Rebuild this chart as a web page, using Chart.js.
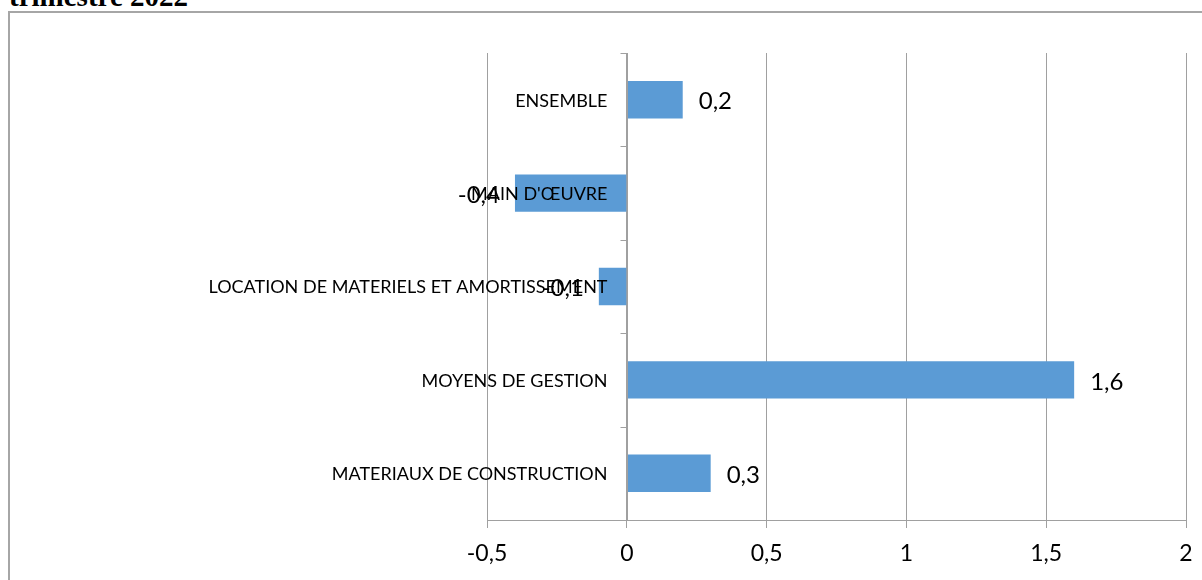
<!DOCTYPE html>
<html>
<head>
<meta charset="utf-8">
<script src="https://cdn.jsdelivr.net/npm/chart.js@4/dist/chart.umd.min.js"></script>
<style>
  html, body { margin: 0; padding: 0; background: #fff; overflow: hidden; }
  #wrap { position: relative; width: 1202px; height: 580px; overflow: hidden; }
  #title { position: absolute; left: 9px; top: -18px; font-family: "Liberation Serif", serif; font-weight: bold; font-size: 29px; line-height: 29px; color: #000; white-space: nowrap; }
  #frame { position: absolute; left: 8px; top: 11px; width: 1300px; height: 700px; border: 2px solid #A6A6A6; box-sizing: border-box; }
  #c { position: absolute; left: 0; top: 0; }
</style>
</head>
<body>
<div id="wrap">
  <div id="title">trimestre 2022</div>
  <div id="frame"></div>
  <canvas id="c" width="1202" height="580"></canvas>
</div>
<script>
const categories = ["ENSEMBLE", "MAIN D'ŒUVRE", "LOCATION DE MATERIELS ET AMORTISSEMENT", "MOYENS DE GESTION", "MATERIAUX DE CONSTRUCTION"];
const values = [0.2, -0.4, -0.1, 1.6, 0.3];
const xTickValues = [-0.5, 0, 0.5, 1, 1.5, 2];

const fmt = v => String(v).replace('.', ',');
const GRID = '#A0A0A0';
const FONT = 'Lato, "Open Sans", sans-serif';

const overlay = {
  id: 'overlay',
  afterDatasetsDraw(chart) {
    const ctx = chart.ctx;
    const xs = chart.scales.x, ys = chart.scales.y;
    const area = chart.chartArea;
    const x0 = Math.round(xs.getPixelForValue(0)) + 0.5;
    ctx.save();
    // category axis line at zero
    ctx.strokeStyle = GRID;
    ctx.lineWidth = 1;
    ctx.beginPath();
    ctx.moveTo(x0, area.top);
    ctx.lineTo(x0, area.bottom);
    // tick marks at category boundaries
    const n = categories.length;
    const step = (area.bottom - area.top) / n;
    for (let i = 0; i <= n; i++) {
      const y = Math.round(area.top + i * step) + 0.5;
      ctx.moveTo(x0 - 7, y);
      ctx.lineTo(x0, y);
    }
    ctx.stroke();
    // category labels next to axis
    ctx.fillStyle = '#000';
    ctx.font = '18px ' + FONT;
    ctx.textAlign = 'right';
    ctx.textBaseline = 'middle';
    categories.forEach((c, i) => {
      ctx.fillText(c, x0 - 20, ys.getPixelForValue(i) + 1);
    });
    // value labels
    ctx.font = '24px ' + FONT;
    const meta = chart.getDatasetMeta(0);
    meta.data.forEach((bar, i) => {
      const v = values[i];
      if (v >= 0) {
        ctx.textAlign = 'left';
        ctx.fillText(fmt(v), bar.x + 16, bar.y + 2);
      } else {
        ctx.textAlign = 'right';
        ctx.fillText(fmt(v), bar.x - 15, bar.y + 2);
      }
    });
    ctx.restore();
  }
};

new Chart(document.getElementById('c'), {
  type: 'bar',
  data: {
    labels: categories,
    datasets: [{
      data: values,
      backgroundColor: '#5B9BD5',
      borderWidth: 0,
      barPercentage: 0.8,
      categoryPercentage: 0.5
    }]
  },
  options: {
    indexAxis: 'y',
    responsive: false,
    animation: false,
    devicePixelRatio: 1,
    layout: { padding: { left: 487, right: 16, top: 53, bottom: 0 } },
    plugins: { legend: { display: false }, tooltip: { enabled: false } },
    scales: {
      x: {
        type: 'linear',
        min: -0.5,
        max: 2,
        afterBuildTicks: s => { s.ticks = xTickValues.map(v => ({ value: v })); },
        afterFit: s => { s.height = 60; s.paddingLeft = 0; s.paddingRight = 0; },
        ticks: {
          callback: v => fmt(v),
          color: '#000',
          font: { family: FONT, size: 23 },
          padding: 12
        },
        grid: { color: GRID, lineWidth: 1, tickLength: 8, drawTicks: true },
        border: { color: GRID, width: 1 }
      },
      y: {
        display: false
      }
    }
  },
  plugins: [overlay]
});
</script>
</body>
</html>
